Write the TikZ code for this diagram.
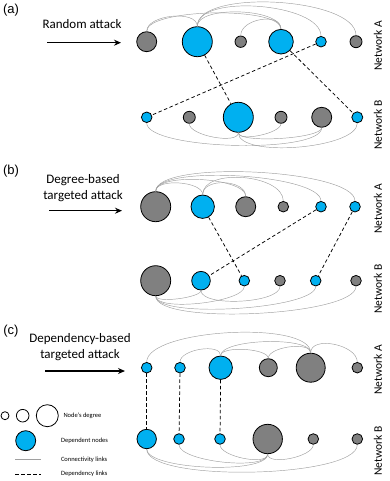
\documentclass[tikz,border=0pt]{standalone}
\usepackage{fontspec}
\setmainfont{Carlito}
\newfontfamily\arialf{Liberation Sans}
\usetikzlibrary{arrows.meta}
\definecolor{nodeblue}{HTML}{00B0F0}
\definecolor{nodegray}{HTML}{808080}
\definecolor{linkgray}{HTML}{A0A0A0}
\newcommand\uarc[3]{\draw[conn] (#1.north) .. controls +(0,-#3) and +(0,-#3) .. (#2.north);}
\newcommand\darc[3]{\draw[conn] (#1.south) .. controls +(0,#3) and +(0,#3) .. (#2.south);}
\begin{document}
\begin{tikzpicture}[x=1pt,y=-1pt,
  nd/.style={circle,draw=black,line width=0.8pt,inner sep=0pt,minimum size=#1},
  bn/.style={nd=#1,fill=nodeblue},
  gn/.style={nd=#1,fill=nodegray},
  wn/.style={nd=#1,fill=white},
  conn/.style={draw=linkgray,line width=0.45pt},
  dep/.style={draw=black,line width=0.75pt,dash pattern=on 3.5pt off 2.5pt},
  attack/.style={-{Stealth[length=7pt,width=6pt]},line width=1.4pt},
  lbl/.style={font=\fontsize{13}{15.5}\selectfont,align=center},
  panel/.style={font=\arialf\fontsize{13}{15}\selectfont},
  net/.style={rotate=90,font=\fontsize{11.5}{13}\selectfont},
  leg/.style={font=\fontsize{6.5}{8}\selectfont,anchor=west}]
\useasboundingbox (0,0) rectangle (389,481);

% ---------------- panel (a) ----------------
\node[panel] (pa) at (11,10.5) {(a)};
\node[lbl] (ta) at (82,24) {Random attack};
\coordinate (aas) at (47,42.7);
\coordinate (aae) at (121,42.7);
\draw[attack] (aas) -- (aae);
\node[net] (naA) at (378,46) {Network A};
\node[net] (naB) at (378,125) {Network B};

\node[gn=20pt] (a1) at (146.7,41.7) {};
\node[bn=30pt] (a2) at (197.3,41.7) {};
\node[gn=11.4pt] (a3) at (240.7,41.7) {};
\node[bn=24.6pt] (a4) at (281,41.7) {};
\node[bn=10.6pt] (a5) at (321,41.7) {};
\node[gn=12pt] (a6) at (356,41.7) {};

\node[bn=10.6pt] (b1) at (146.7,117.3) {};
\node[gn=12pt] (b2) at (189.3,117.3) {};
\node[bn=30pt] (b3) at (238.3,117.3) {};
\node[gn=12pt] (b4) at (281,117.3) {};
\node[gn=20pt] (b5) at (321.7,117.3) {};
\node[bn=11pt] (b6) at (357.3,117.3) {};

\uarc{a1}{a2}{16.7}
\uarc{a1}{a4}{23}
\uarc{a2}{a4}{21}
\uarc{a2}{a5}{33}
\uarc{a2}{a6}{38}
\uarc{a3}{a4}{17}
\darc{b1}{b5}{26.7}
\darc{b2}{b3}{12}
\darc{b3}{b4}{9.6}
\darc{b3}{b5}{11}
\darc{b3}{b6}{25.6}
\draw[dep] (a2) -- (b3);
\draw[dep] (a4) -- (b6);
\draw[dep] (a5) -- (b1);

% ---------------- panel (b) ----------------
\node[panel] (pb) at (11,171) {(b)};
\node[lbl] (tb) at (83,188) {Degree-based\\targeted attack};
\coordinate (bas) at (49,210.7);
\coordinate (bae) at (122,210.7);
\draw[attack] (bas) -- (bae);
\node[net] (nbA) at (378,209) {Network A};
\node[net] (nbB) at (378,289) {Network B};

\node[gn=30pt] (c1) at (155.7,206.7) {};
\node[bn=23.4pt] (c2) at (202.7,206.7) {};
\node[gn=20pt] (c3) at (245.7,206.7) {};
\node[gn=10.6pt] (c4) at (283.3,206.7) {};
\node[bn=10.6pt] (c5) at (321,206.7) {};
\node[bn=10.6pt] (c6) at (355,206.7) {};

\node[gn=30pt] (d1) at (155.7,280.7) {};
\node[bn=18.6pt] (d2) at (201,280.7) {};
\node[bn=10.6pt] (d3) at (244.3,280.7) {};
\node[gn=10.6pt] (d4) at (280,280.7) {};
\node[bn=10.6pt] (d5) at (315.7,280.7) {};
\node[gn=10.6pt] (d6) at (356,280.7) {};

\uarc{c1}{c2}{13.3}
\uarc{c1}{c3}{19}
\uarc{c2}{c3}{17}
\uarc{c2}{c4}{27}
\uarc{c1}{c5}{27}
\uarc{c1}{c6}{32}
\darc{d1}{d2}{7.3}
\darc{d1}{d3}{16}
\darc{d2}{d4}{17}
\darc{d1}{d5}{23}
\darc{d1}{d6}{29.6}
\draw[dep] (c2) -- (d3);
\draw[dep] (c5) -- (d2);
\draw[dep] (c6) -- (d5);

% ---------------- panel (c) ----------------
\node[panel] (pc) at (11,331) {(c)};
\node[lbl] (tc) at (80,347) {Dependency-based\\targeted attack};
\coordinate (cas) at (45,371);
\coordinate (cae) at (125,371);
\draw[attack] (cas) -- (cae);
\node[net] (ncA) at (378,370) {Network A};
\node[net] (ncB) at (378,451) {Network B};

\node[bn=10.6pt] (e1) at (146.7,367.7) {};
\node[bn=10.6pt] (e2) at (180,367.7) {};
\node[bn=23.4pt] (e3) at (220.7,367.7) {};
\node[gn=18pt] (e4) at (268.3,367.7) {};
\node[gn=29pt] (e5) at (310.7,367.7) {};
\node[gn=10.6pt] (e6) at (357.3,367.7) {};

\node[bn=19.4pt] (f1) at (146.7,439) {};
\node[bn=10.6pt] (f2) at (179,439) {};
\node[bn=10.6pt] (f3) at (220,439) {};
\node[gn=29.4pt] (f4) at (267.7,439) {};
\node[gn=10.6pt] (f5) at (313.3,439) {};
\node[gn=10.6pt] (f6) at (357.3,439) {};

\uarc{e1}{e5}{33}
\uarc{e2}{e3}{12.7}
\uarc{e3}{e4}{10}
\uarc{e3}{e5}{16.8}
\uarc{e4}{e5}{11.6}
\uarc{e5}{e6}{17.5}
\darc{f1}{f4}{20.7}
\darc{f1}{f6}{33.6}
\darc{f2}{f4}{17}
\darc{f3}{f4}{12}
\darc{f4}{f5}{12}
\draw[dep] (e1) -- (f1);
\draw[dep] (e2) -- (f2);
\draw[dep] (e3) -- (f3);

% ---------------- legend ----------------
\node[wn=8pt] (l1) at (5,415.7) {};
\node[wn=12.6pt] (l2) at (22.7,415.7) {};
\node[wn=22pt] (l3) at (47.3,415.7) {};
\node[leg] (lt1) at (60,415.7) {Node's degree};
\node[bn=20pt] (l4) at (25.7,440.7) {};
\node[leg] (lt2) at (57.5,441) {Dependent nodes};
\coordinate (lcs) at (15,459.3);
\coordinate (lce) at (40.7,459.3);
\draw[conn] (lcs) -- (lce);
\node[leg] (lt3) at (57.5,459.5) {Connectivity links};
\coordinate (lds) at (15,474);
\coordinate (lde) at (40.7,474);
\draw[dep] (lds) -- (lde);
\node[leg] (lt4) at (57.5,474) {Dependency links};
\end{tikzpicture}
\end{document}
